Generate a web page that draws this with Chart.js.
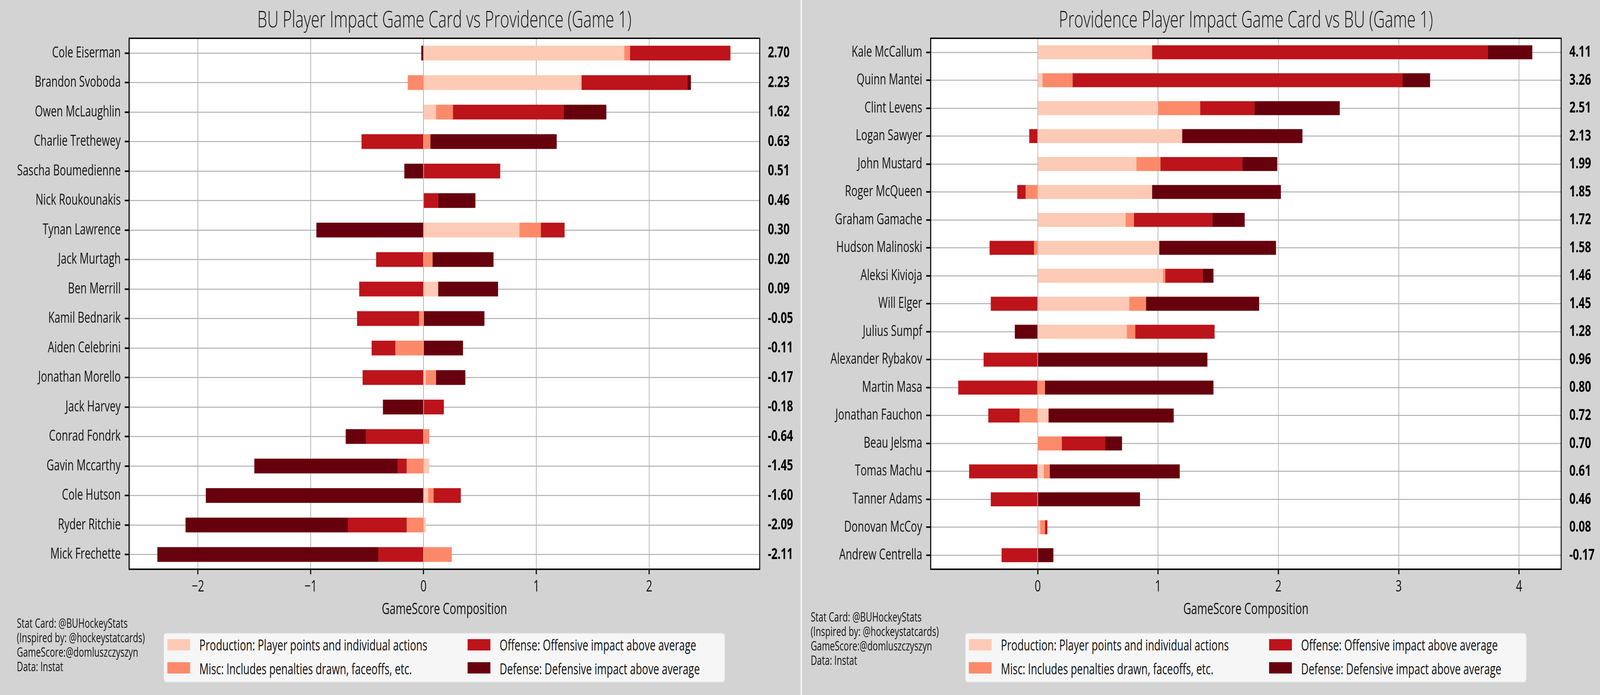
<!DOCTYPE html>
<html>
<head>
<meta charset="utf-8">
<script src="https://cdn.jsdelivr.net/npm/chart.js@4.4.1/dist/chart.umd.min.js"></script>
<style>
  html, body { margin: 0; background: #d3d3d3; overflow: hidden; }
  #page { position: absolute; left: 0; top: 0; width: 5899px; height: 1779px; transform-origin: 0 0; font-family: 'Open Sans', sans-serif; }
  .half { position: absolute; top: 0; width: 2950px; height: 1779px; }
  .divider { position: absolute; left: 2951px; top: 0; width: 6px; height: 1779px; background: #f2f2f2; }
  .note { position: absolute; font-size: 32px; line-height: 37px; color: #111; white-space: pre; }
  .legend { position: absolute; width: 2070px; height: 127px; background: #f6f6f6; border: 2px solid #e4e4e4; border-radius: 10px; box-sizing: border-box; }
  .sw { position: absolute; width: 84px; height: 29px; }
  .lt { position: absolute; font-size: 38px; line-height: 40px; color: #111; white-space: nowrap; }
</style>
</head>
<body>
<div id="page">
  <div class="half" style="left:0"><canvas id="bu" width="2950" height="1779"></canvas></div>
  <div class="divider"></div>
  <div class="half" style="left:2955px"><canvas id="pc" width="2950" height="1779"></canvas></div>
</div>
<script>
// BU side
const buPlayers = ['Cole Eiserman', 'Brandon Svoboda', 'Owen McLaughlin', 'Charlie Trethewey', 'Sascha Boumedienne',
  'Nick Roukounakis', 'Tynan Lawrence', 'Jack Murtagh', 'Ben Merrill', 'Kamil Bednarik', 'Aiden Celebrini',
  'Jonathan Morello', 'Jack Harvey', 'Conrad Fondrk', 'Gavin Mccarthy', 'Cole Hutson', 'Ryder Ritchie', 'Mick Frechette'];
const buProduction = [1.78, 1.40, 0.11, 0, 0, 0, 0.85, 0, 0.13, 0, 0, 0.02, 0, 0, 0.05, 0.04, 0.02, 0];
const buMisc       = [0.05, -0.14, 0.15, 0.06, 0, 0, 0.19, 0.08, 0, -0.04, -0.25, 0.09, 0, 0.05, -0.15, 0.05, -0.15, 0.25];
const buOffense    = [0.89, 0.94, 0.98, -0.55, 0.68, 0.13, 0.21, -0.42, -0.57, -0.55, -0.21, -0.54, 0.18, -0.51, -0.08, 0.24, -0.52, -0.40];
const buDefense    = [-0.02, 0.03, 0.38, 1.12, -0.17, 0.33, -0.95, 0.54, 0.53, 0.54, 0.35, 0.26, -0.36, -0.18, -1.27, -1.93, -1.44, -1.96];
const buTotals     = [2.70, 2.23, 1.62, 0.63, 0.51, 0.46, 0.30, 0.20, 0.09, -0.05, -0.11, -0.17, -0.18, -0.64, -1.45, -1.60, -2.09, -2.11];
const buTicks = [-2, -1, 0, 1, 2];

// Providence side
const pcPlayers = ['Kale McCallum', 'Quinn Mantei', 'Clint Levens', 'Logan Sawyer', 'John Mustard', 'Roger McQueen',
  'Graham Gamache', 'Hudson Malinoski', 'Aleksi Kivioja', 'Will Elger', 'Julius Sumpf', 'Alexander Rybakov',
  'Martin Masa', 'Jonathan Fauchon', 'Beau Jelsma', 'Tomas Machu', 'Tanner Adams', 'Donovan McCoy', 'Andrew Centrella'];
const pcProduction = [0.95, 0.04, 1.00, 1.20, 0.82, 0.95, 0.73, 1.01, 1.04, 0.76, 0.74, 0, 0, 0.09, 0, 0.05, 0, 0.02, 0];
const pcMisc       = [0, 0.25, 0.35, 0, 0.20, -0.10, 0.07, -0.03, 0.02, 0.14, 0.07, 0, 0.06, -0.15, 0.20, 0.05, 0, 0.04, 0];
const pcOffense    = [2.79, 2.74, 0.45, -0.07, 0.68, -0.07, 0.65, -0.37, 0.31, -0.39, 0.66, -0.45, -0.66, -0.26, 0.36, -0.57, -0.39, 0.02, -0.30];
const pcDefense    = [0.37, 0.23, 0.71, 1.00, 0.29, 1.07, 0.27, 0.97, 0.09, 0.94, -0.19, 1.41, 1.40, 1.04, 0.14, 1.08, 0.85, 0, 0.13];
const pcTotals     = [4.11, 3.26, 2.51, 2.13, 1.99, 1.85, 1.72, 1.58, 1.46, 1.45, 1.28, 0.96, 0.80, 0.72, 0.70, 0.61, 0.46, 0.08, -0.17];
const pcTicks = [0, 1, 2, 3, 4];

const partLabels = ['Production: Player points and individual actions', 'Misc: Includes penalties drawn, faceoffs, etc.',
  'Offense: Offensive impact above average', 'Defense: Defensive impact above average'];
const partColors = ['#fdcab5', '#fc8a6a', '#bc141a', '#67000d'];
const noteLines = ['Stat Card: @BUHockeyStats', '(Inspired by: @hockeystatcards)', 'GameScore:@domluszczyszyn', 'Data: Instat'];

// the window is narrower than the card, squeeze the page across so the whole card shows
const sx = Math.min(1, window.innerWidth / 5899);
document.getElementById('page').style.transform = 'scale(' + sx + ', 1)';

Chart.defaults.font.family = "'Open Sans', sans-serif";
Chart.defaults.color = '#111';

// white plot face and a black frame all round it
const frameBox = {
  id: 'frameBox',
  beforeDraw(chart) {
    const a = chart.chartArea, ctx = chart.ctx;
    ctx.save();
    ctx.fillStyle = '#fff';
    ctx.fillRect(a.left, a.top, a.right - a.left, a.bottom - a.top);
    ctx.restore();
  },
  afterDraw(chart) {
    const a = chart.chartArea, ctx = chart.ctx;
    ctx.save();
    ctx.strokeStyle = '#000';
    ctx.lineWidth = 3.5;
    ctx.strokeRect(a.left, a.top, a.right - a.left, a.bottom - a.top);
    ctx.restore();
  }
};

function gameCard(id, title, players, parts, totals, ticks, xMin, xMax) {
  return new Chart(document.getElementById(id), {
    type: 'bar',
    data: {
      labels: players,
      datasets: parts.map((d, i) => ({
        label: partLabels[i], data: d, backgroundColor: partColors[i], borderWidth: 0,
        barPercentage: 0.5, categoryPercentage: 1.0
      }))
    },
    options: {
      indexAxis: 'y',
      responsive: false,
      animation: false,
      devicePixelRatio: 1,
      layout: { padding: 0 },
      plugins: {
        legend: { display: false },
        tooltip: { enabled: false },
        title: {
          display: true, text: title, fullSize: false, color: '#111',
          font: { size: 58, weight: 300, lineHeight: 1 },
          padding: { top: 24, bottom: 16 }
        }
      },
      scales: {
        x: {
          stacked: true, min: xMin, max: xMax, z: 1,
          afterBuildTicks: s => { s.ticks = ticks.map(v => ({ value: v })); },
          afterFit: s => { s.height = 322; },
          grid: { color: '#b0b0b0', lineWidth: 2.5, tickColor: '#000', tickWidth: 4, tickLength: 13 },
          border: { color: '#000', width: 3 },
          ticks: { font: { size: 40 }, padding: 9, color: '#111', callback: v => (v < 0 ? '\u2212' + Math.abs(v) : String(v)) },
          title: { display: true, text: 'GameScore Composition', color: '#111', font: { size: 40, lineHeight: 1.2 }, padding: { top: 0, bottom: 194 } }
        },
        y: {
          stacked: true, z: 1, offset: true,
          afterFit: s => { s.width = 476; },
          grid: { offset: false, color: '#b0b0b0', lineWidth: 2.5, tickColor: '#000', tickWidth: 4, tickLength: 16 },
          border: { color: '#000', width: 3 },
          ticks: { font: { size: 38 }, padding: 15, color: '#111' }
        },
        y2: {
          type: 'category', position: 'right', offset: true,
          labels: totals.map(v => v.toFixed(2)),
          afterFit: s => { s.width = 149; },
          grid: { display: false },
          border: { display: false },
          ticks: { font: { size: 40, weight: 'bold' }, padding: 22, color: '#000' }
        }
      }
    },
    plugins: [frameBox]
  });
}

function addNotes(half, noteLeft, noteTop) {
  const note = document.createElement('div');
  note.className = 'note';
  note.style.left = noteLeft + 'px';
  note.style.top = noteTop + 'px';
  note.textContent = noteLines.join('\n');
  half.appendChild(note);

  const box = document.createElement('div');
  box.className = 'legend';
  box.style.left = '603px';
  box.style.top = '1620px';
  // two columns, filled top to bottom like the original
  const cols = [[0, 1], [2, 3]];
  const colX = [12, 1119];
  cols.forEach((col, c) => col.forEach((idx, r) => {
    const sw = document.createElement('div');
    sw.className = 'sw';
    sw.style.background = partColors[idx];
    sw.style.left = colX[c] + 'px';
    sw.style.top = (14 + r * 59) + 'px';
    box.appendChild(sw);
    const t = document.createElement('div');
    t.className = 'lt';
    t.textContent = partLabels[idx];
    t.style.left = (colX[c] + 118) + 'px';
    t.style.top = (8 + r * 61) + 'px';
    box.appendChild(t);
  }));
  half.appendChild(box);
}

gameCard('bu', 'BU Player Impact Game Card vs Providence (Game 1)', buPlayers,
  [buProduction, buMisc, buOffense, buDefense], buTotals, buTicks, -2.61, 2.98);
gameCard('pc', 'Providence Player Impact Game Card vs BU (Game 1)', pcPlayers,
  [pcProduction, pcMisc, pcOffense, pcDefense], pcTotals, pcTicks, -0.89, 4.35);

const halves = document.querySelectorAll('.half');
addNotes(halves[0], 62, 1576);
addNotes(halves[1], 34, 1560);
</script>
</body>
</html>
